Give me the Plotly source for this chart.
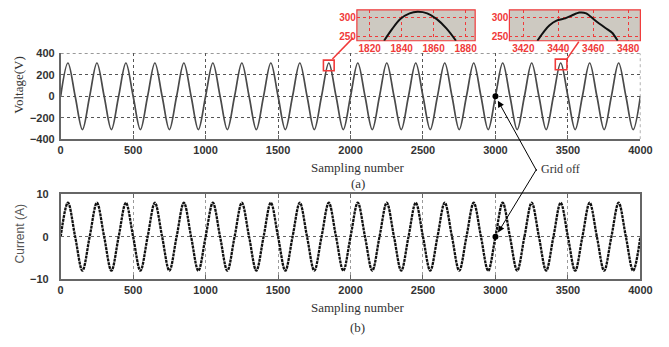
import plotly.graph_objects as go

# ---- data -------------------------------------------------------------
# Waveform key points every quarter cycle (200 samples per cycle):
# zero crossing, positive peak, zero crossing, negative peak, ...
sample_positions = list(range(0, 4001, 50))

voltage_peaks = [310, 310, 310, 310, 310, 310, 310, 310, 310, 310,
                 310, 310, 310, 310, 310, 310, 310, 310, 310, 310]
voltage_troughs = [-310, -310, -310, -310, -310, -310, -310, -310, -310, -310,
                   -310, -310, -310, -310, -310, -310, -310, -310, -310, -310]
current_peaks = [8, 8, 8, 8, 8, 8, 8, 8, 8, 8,
                 8, 8, 8, 8, 8, 8, 8, 8, 8, 8]
current_troughs = [-8, -8, -8, -8, -8, -8, -8, -8, -8, -8,
                   -8, -8, -8, -8, -8, -8, -8, -8, -8, -8]

# grid-off instant
grid_off_sample = [3000]
grid_off_voltage = [0]
grid_off_current = [0]

# zoomed views of two voltage peaks
zoom1_x = [1829, 1834, 1839, 1845, 1850, 1856, 1862, 1868, 1874]
zoom1_y = [240, 270, 296, 311, 315, 311, 296, 272, 240]
zoom2_x = [3428, 3432, 3435, 3439, 3444, 3448, 3452, 3456, 3461, 3467, 3471, 3474]
zoom2_y = [240, 265, 280, 292, 298, 306, 313, 311, 293, 273, 260, 240]

x_ticks = [0, 500, 1000, 1500, 2000, 2500, 3000, 3500, 4000]
v_ticks = [-400, -200, 0, 200, 400]
i_ticks = [-10, 0, 10]
zoom1_ticks = [1820, 1840, 1860, 1880]
zoom2_ticks = [3420, 3440, 3460, 3480]
zoom_y_ticks = [250, 300]


def build_wave(peaks, troughs):
    values = []
    for p, t in zip(peaks, troughs):
        values += [0, p, 0, t]
    values.append(0)
    return values


voltage = build_wave(voltage_peaks, voltage_troughs)
current = build_wave(current_peaks, current_troughs)

# ---- style ------------------------------------------------------------
W, H = 669, 347
AX = "#666666"
TXT = "#333333"
RED = "#f03a3a"
SERIF = "Liberation Serif, Times New Roman, serif"
SANS = "Liberation Sans, Arial, sans-serif"


def px(x):
    return x / W


def py(y):
    return 1 - y / H


fig = go.Figure()

fig.add_trace(go.Scatter(x=sample_positions, y=voltage, mode="lines",
                         line=dict(color="#4a4a4a", width=1.7, shape="spline", smoothing=1.0),
                         xaxis="x", yaxis="y", hoverinfo="skip"))
fig.add_trace(go.Scatter(x=sample_positions, y=current, mode="lines",
                         line=dict(color="#111111", width=2.3, shape="spline", smoothing=1.0,
                                   dash="3px,0.8px"),
                         xaxis="x2", yaxis="y2", hoverinfo="skip"))
fig.add_trace(go.Scatter(x=grid_off_sample, y=grid_off_voltage, mode="markers",
                         marker=dict(color="black", size=6), xaxis="x", yaxis="y"))
fig.add_trace(go.Scatter(x=grid_off_sample, y=grid_off_current, mode="markers",
                         marker=dict(color="black", size=6), xaxis="x2", yaxis="y2"))
fig.add_trace(go.Scatter(x=zoom1_x, y=zoom1_y, mode="lines",
                         line=dict(color="#111111", width=2, shape="spline"),
                         xaxis="x3", yaxis="y3"))
fig.add_trace(go.Scatter(x=zoom2_x, y=zoom2_y, mode="lines",
                         line=dict(color="#111111", width=2, shape="spline", smoothing=0.6),
                         xaxis="x4", yaxis="y4"))

main_xdom = [px(59), px(652)]
tick_font = dict(family=SANS, size=11, color=TXT, weight="bold")
red_font = dict(family=SANS, size=10, color=RED, weight="bold")

common_x = dict(domain=main_xdom, range=[0, 4000], tickvals=x_ticks,
                showgrid=True, griddash="dot", zeroline=False,
                ticks="inside", ticklen=4, tickcolor=AX, tickfont=tick_font,
                showline=True, linecolor=AX, linewidth=1.5)

fig.update_layout(
    width=W, height=H, margin=dict(l=0, r=0, t=0, b=0),
    paper_bgcolor="white", plot_bgcolor="rgba(0,0,0,0)", showlegend=False,
    xaxis=dict(common_x, anchor="y", gridcolor="#555555", gridwidth=1),
    yaxis=dict(domain=[py(138), py(49)], range=[-400, 400], tickvals=v_ticks,
               anchor="x", showgrid=True, gridcolor="#555555", griddash="dot",
               zeroline=False, ticks="inside", ticklen=4, tickcolor=AX,
               tickfont=tick_font, showline=True, linecolor=AX, linewidth=1.5,
               ticklabelstandoff=2),
    xaxis2=dict(common_x, anchor="y2", gridcolor="#9a9a9a", mirror="all"),
    yaxis2=dict(domain=[py(283), py(195)], range=[-10, 10], tickvals=i_ticks,
                anchor="x2", showgrid=True, gridcolor="#666666", griddash="dot",
                zeroline=False, ticks="inside", ticklen=4, tickcolor=AX,
                tickfont=tick_font, showline=True, linecolor=AX, linewidth=1.5,
                mirror="all", ticklabelstandoff=8),
    xaxis3=dict(domain=[px(362), px(483)], range=[1812, 1886], tickvals=zoom1_ticks,
                anchor="y3", showgrid=True, gridcolor=RED, griddash="dot",
                zeroline=False, ticks="", tickfont=red_font, showline=False,
                ticklabelstandoff=0),
    yaxis3=dict(domain=[py(36), py(4)], range=[240, 320], tickvals=zoom_y_ticks,
                anchor="x3", showgrid=True, gridcolor=RED, griddash="dot",
                zeroline=False, ticks="", tickfont=red_font, showline=False,
                ticklabelstandoff=0),
    xaxis4=dict(domain=[px(518), px(652)], range=[3412, 3487], tickvals=zoom2_ticks,
                anchor="y4", showgrid=True, gridcolor=RED, griddash="dot",
                zeroline=False, ticks="", tickfont=red_font, showline=False,
                ticklabelstandoff=0),
    yaxis4=dict(domain=[py(36), py(4)], range=[240, 320], tickvals=zoom_y_ticks,
                anchor="x4", showgrid=True, gridcolor=RED, griddash="dot",
                zeroline=False, ticks="", tickfont=red_font, showline=False,
                ticklabelstandoff=0),
)

# inset backgrounds and frames
for xa, ya in (("x3", "y3"), ("x4", "y4")):
    fig.add_shape(type="rect", xref=f"{xa} domain", yref=f"{ya} domain",
                  x0=0, x1=1, y0=0, y1=1, fillcolor="#cdc9c1",
                  line=dict(color=RED, width=1.2), layer="below")

# dotted top/right borders of the voltage panel
fig.add_shape(type="line", xref="x", yref="y", x0=0, x1=4000, y0=400, y1=400,
              line=dict(color="#555555", width=1, dash="dot"))
fig.add_shape(type="line", xref="x", yref="y", x0=4000, x1=4000, y0=-400, y1=400,
              line=dict(color="#555555", width=1, dash="dot"))

# zoom markers on the voltage trace and their leader lines
fig.add_shape(type="rect", xref="x", yref="y", x0=1813, x1=1887, y0=238, y1=337,
              line=dict(color=RED, width=1.6))
fig.add_shape(type="rect", xref="x", yref="y", x0=3413, x1=3493, y0=247, y1=346,
              line=dict(color=RED, width=1.6))
fig.add_shape(type="line", xref="paper", yref="paper",
              x0=px(337), y0=py(55), x1=px(358), y1=py(33),
              line=dict(color=RED, width=1.5))
fig.add_shape(type="line", xref="paper", yref="paper",
              x0=px(576), y0=py(56), x1=px(589), y1=py(37),
              line=dict(color=RED, width=1.5))

annotations = [
    dict(text="Voltage(V)", x=px(16), y=py(82), textangle=-90,
         font=dict(family=SERIF, size=13, color=TXT)),
    dict(text="Current (A)", x=px(17), y=py(236), textangle=-90,
         font=dict(family=SANS, size=12, color="#555555")),
    dict(text="Sampling number", x=px(363), y=py(167),
         font=dict(family=SERIF, size=13, color=TXT)),
    dict(text="(a)", x=px(363), y=py(184),
         font=dict(family=SERIF, size=13, color=TXT)),
    dict(text="Sampling number", x=px(363), y=py(312),
         font=dict(family=SERIF, size=13, color=TXT)),
    dict(text="(b)", x=px(363), y=py(333),
         font=dict(family=SERIF, size=13, color=TXT)),
    dict(text="Grid off", x=px(548), y=py(169), xanchor="left",
         font=dict(family=SERIF, size=12, color=TXT)),
]
for a in annotations:
    a.update(xref="paper", yref="paper", showarrow=False)
    if "xanchor" not in a:
        a["xanchor"] = "center"
    a["yanchor"] = "middle"

annotations += [
    dict(x=3000, y=0, xref="x", yref="y", text="", showarrow=True,
         ax=42, ay=76, arrowhead=2, arrowsize=1.3, arrowwidth=1,
         arrowcolor="black", standoff=5),
    dict(x=3000, y=0, xref="x2", yref="y2", text="", showarrow=True,
         ax=42, ay=-69, arrowhead=2, arrowsize=1.3, arrowwidth=1,
         arrowcolor="black", standoff=5),
]
fig.update_layout(annotations=annotations)

fig.write_html("out.html")
